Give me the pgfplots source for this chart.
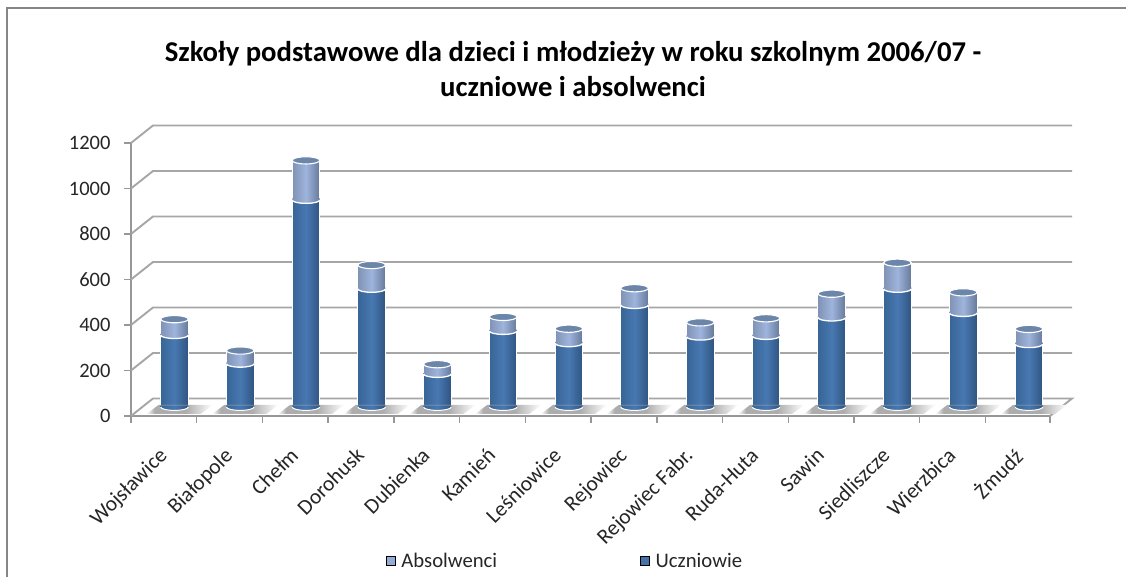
\documentclass[border=0pt]{standalone}
\usepackage{fontspec}
\setmainfont{Carlito}
\usepackage{pgfplots}
\usepackage{pgfplotstable}
\pgfplotsset{compat=1.18}

\definecolor{axisgray}{HTML}{979797}
\definecolor{gridgray}{HTML}{A6A6A6}
\definecolor{framegray}{HTML}{868686}
\definecolor{darkl}{HTML}{386596}
\definecolor{darkm}{HTML}{4878B2}
\definecolor{darkr}{HTML}{2F5581}
\definecolor{lightl}{HTML}{8093B5}
\definecolor{lightm}{HTML}{9FB4DC}
\definecolor{lightr}{HTML}{64799A}
\definecolor{capblue}{HTML}{6C86AA}
\definecolor{legdark}{HTML}{4672A8}
\definecolor{leglight}{HTML}{95ABD3}

% 1px of the reference = 1pt here
\pgfplotstableread{
i  uczniowie absolwenci
0  316  70
1  190  58
2  910  174
3  519  105
4  145  43
5  334  62
6  280  64
7  448  74
8  309  63
9  312  78
10 393  105
11 519  115
12 413  91
13 276  67
}\schools

\pgfdeclarehorizontalshading{floorfade}{100bp}{rgb(0bp)=(1,1,1); rgb(25bp)=(1,1,1);
  rgb(31bp)=(0.68,0.68,0.68); rgb(55bp)=(0.68,0.68,0.68); rgb(75bp)=(1,1,1); rgb(100bp)=(1,1,1)}

% floor shadow, base, boundary and top of each cylinder
\pgfdeclareplotmark{floorshadow}{%
  \shade[draw=none,shading=floorfade]
    (-28pt,-7pt) -- (26pt,-7pt) -- (38pt,2pt) -- (-16pt,2pt) -- cycle;}
\pgfdeclareplotmark{cylbase}{%
  \begin{scope}[rotate=5]
  \shade[draw=none,left color=darkl,right color=darkr,middle color=darkm]
    (-13.8pt,1.5pt) -- (-13.8pt,0pt) arc[start angle=180,end angle=360,x radius=13.8pt,y radius=3.4pt]
    -- (13.8pt,1.5pt) -- cycle;
  \draw[white,line width=1pt]
    (-13.8pt,0pt) arc[start angle=180,end angle=360,x radius=13.8pt,y radius=3.4pt];
  \end{scope}}
\pgfdeclareplotmark{cylmid}{%
  \begin{scope}[rotate=5]
  \shade[draw=none,left color=lightl,right color=lightr,middle color=lightm]
    (-13.8pt,1.5pt) -- (-13.8pt,0pt) arc[start angle=180,end angle=360,x radius=13.8pt,y radius=3.4pt]
    -- (13.8pt,1.5pt) -- cycle;
  \draw[white,line width=1.3pt]
    (-13.8pt,0pt) arc[start angle=180,end angle=360,x radius=13.8pt,y radius=3.4pt];
  \end{scope}}
\pgfdeclareplotmark{cyltop}{%
  \begin{scope}[rotate=5]
  \filldraw[fill=capblue,draw=white,line width=1.1pt] (0pt,0pt) ellipse[x radius=13.8pt,y radius=3.6pt];
  \end{scope}}

\begin{document}
\begin{tikzpicture}[x=1pt,y=1pt]
\path[use as bounding box] (0,0) rectangle (1126,577);
\fill[white] (0,0) rectangle (1126,577);
\draw[framegray,line width=2pt] (7,0) -- (7,569) -- (1126,569);

% axes, walls and grid
\begin{axis}[
  at={(131pt,161pt)},anchor=south west,
  scale only axis,width=919pt,height=273pt,
  xmin=-0.662,xmax=13.32,ymin=0,ymax=1200,
  clip=false,
  axis x line=bottom,axis y line=left,
  axis line style={-,draw=axisgray,line width=1.8pt},
  tick align=outside,
  major tick length=7pt,minor tick length=7pt,
  ytick={0,200,400,600,800,1000,1200},
  y tick style={draw=axisgray,line width=1.5pt},
  xtick={-0.162,0.838,1.838,2.838,3.838,4.838,5.838,6.838,7.838,8.838,9.838,10.838,11.838,12.838},
  xticklabels={Wojsławice,Białopole,Chełm,Dorohusk,Dubienka,Kamień,Leśniowice,Rejowiec,Rejowiec Fabr.,Ruda-Huta,Sawin,Siedliszcze,Wierzbica,Żmudź},
  minor xtick={-0.662,0.338,1.338,2.338,3.338,4.338,5.338,6.338,7.338,8.338,9.338,10.338,11.338,12.338,13.32},
  major x tick style={draw=none},
  minor x tick style={draw=axisgray,line width=1.5pt},
  /pgf/number format/assume math mode=true,
  /pgf/number format/1000 sep={},
  yticklabel style={font=\fontsize{20.5}{22}\selectfont,text=black!85,xshift=-10pt},
  xticklabel style={font=\fontsize{21.5}{24}\selectfont,text=black!85,rotate=45,anchor=north east,yshift=-8.5pt,xshift=-17.5pt},
  title={Szkoły podstawowe dla dzieci i młodzieży w roku szkolnym 2006/07 -\\uczniowe i absolwenci},
  title style={at={(0.481,1.0)},anchor=south,yshift=37pt,align=center,font=\bfseries\fontsize{28.7}{35}\selectfont},
]
\addplot[gridgray,line width=1.9pt] coordinates {(-0.662,0)(-0.327,77)(13.655,77)(13.32,0)};
\addplot[gridgray,line width=1.9pt] coordinates {(-0.662,200)(-0.327,277)(13.655,277)};
\addplot[gridgray,line width=1.9pt] coordinates {(-0.662,400)(-0.327,477)(13.655,477)};
\addplot[gridgray,line width=1.9pt] coordinates {(-0.662,600)(-0.327,677)(13.655,677)};
\addplot[gridgray,line width=1.9pt] coordinates {(-0.662,800)(-0.327,877)(13.655,877)};
\addplot[gridgray,line width=1.9pt] coordinates {(-0.662,1000)(-0.327,1077)(13.655,1077)};
\addplot[gridgray,line width=1.9pt] coordinates {(-0.662,1200)(-0.327,1277)(13.655,1277)};
\end{axis}

% cylinders: this axis has its zero where the bases stand on the floor
\begin{axis}[
  at={(131pt,161pt)},anchor=south west,
  scale only axis,width=919pt,height=273pt,
  xmin=-0.662,xmax=13.32,ymin=-39.6,ymax=1160.4,
  clip=false,hide axis,
  ybar,bar width=27.6pt,bar shift=0pt,
  legend columns=2,
  legend style={at={(0.274,-0.53)},anchor=west,draw=none,fill=none,
    font=\fontsize{20.7}{22}\selectfont,text=black!85,
    /tikz/column 1/.style={column sep=4pt},
    /tikz/column 2/.style={column sep=141pt},
    /tikz/column 3/.style={column sep=4pt}},
  legend image code/.code={\fill[#1] (0pt,-4.5pt) rectangle (9pt,4.5pt);},
]
\addlegendimage{fill=leglight}
\addlegendentry{Absolwenci}
\addlegendimage{fill=legdark}
\addlegendentry{Uczniowie}

\addplot[forget plot,only marks,mark=floorshadow] table[x=i,y expr=0] {\schools};
% one plot for each school, so that each cylinder gets its own shading
\pgfplotsinvokeforeach{0,...,13}{
  \addplot[forget plot,draw=white,line width=1pt,left color=lightl,right color=lightr,middle color=lightm,
    restrict x to domain=#1:#1]
    table[x=i,y expr=\thisrow{uczniowie}+\thisrow{absolwenci}] {\schools};
  \addplot[forget plot,draw=white,line width=1pt,left color=darkl,right color=darkr,middle color=darkm,
    restrict x to domain=#1:#1]
    table[x=i,y=uczniowie] {\schools};
}
\addplot[forget plot,only marks,mark=cylbase] table[x=i,y expr=0] {\schools};
\addplot[forget plot,only marks,mark=cylmid] table[x=i,y=uczniowie] {\schools};
\addplot[forget plot,only marks,mark=cyltop] table[x=i,y expr=\thisrow{uczniowie}+\thisrow{absolwenci}] {\schools};
\end{axis}
\end{tikzpicture}
\end{document}
